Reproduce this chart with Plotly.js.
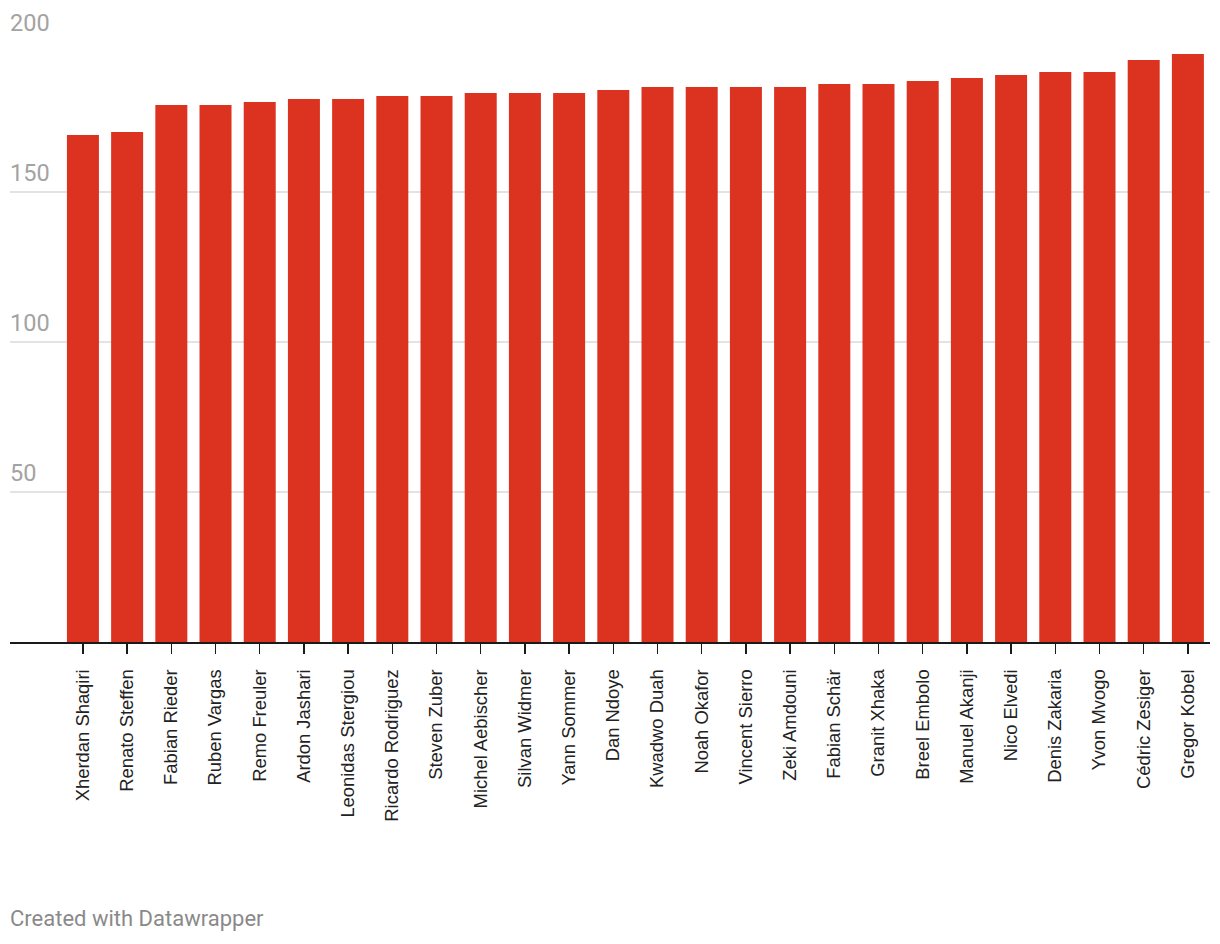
<!DOCTYPE html>
<html>
<head>
<meta charset="utf-8">
<script src="https://cdn.plot.ly/plotly-3.0.1.min.js"></script>
<style>
  html, body { margin: 0; padding: 0; background: #fff; }
  #chart { width: 1220px; height: 944px; }
</style>
</head>
<body>
<div id="chart"></div>
<script>
const players = ["Xherdan Shaqiri","Renato Steffen","Fabian Rieder","Ruben Vargas","Remo Freuler","Ardon Jashari","Leonidas Stergiou","Ricardo Rodriguez","Steven Zuber","Michel Aebischer","Silvan Widmer","Yann Sommer","Dan Ndoye","Kwadwo Duah","Noah Okafor","Vincent Sierro","Zeki Amdouni","Fabian Schär","Granit Xhaka","Breel Embolo","Manuel Akanji","Nico Elvedi","Denis Zakaria","Yvon Mvogo","Cédric Zesiger","Gregor Kobel"];
const heights = [169,170,179,179,180,181,181,182,182,183,183,183,184,185,185,185,185,186,186,187,188,189,190,190,194,196];
const yTicks = [50,100,150,200];
const yTickLabels = ["50","100","150","200"];

const trace = {
  type: 'bar',
  x: players,
  y: heights,
  marker: {color: '#dc3220'},
  hoverinfo: 'x+y'
};

const annotations = yTicks.map((v, i) => ({
  xref: 'paper', yref: 'y', x: 0, y: v,
  xanchor: 'left', yanchor: 'bottom',
  text: yTickLabels[i], showarrow: false,
  font: {family: 'Roboto', size: 23.5, color: '#a3a3a3'},
  yshift: 3, xshift: -2
}));
annotations.push({
  xref: 'paper', yref: 'paper', x: 0, y: 0,
  xanchor: 'left', yanchor: 'middle',
  text: 'Created with Datawrapper', showarrow: false,
  font: {family: 'Roboto', size: 22, color: '#8a8a8a'},
  yshift: -276, xshift: -2
});

const layout = {
  width: 1220, height: 944,
  margin: {l: 10, r: 10, t: 42, b: 302},
  paper_bgcolor: '#fff', plot_bgcolor: '#fff',
  showlegend: false,
  bargap: 0.276,
  font: {family: 'Roboto', color: '#333'},
  xaxis: {
    type: 'category',
    range: [-1.65, 25.5],
    showgrid: false,
    showline: true, linecolor: '#1a1a1a', linewidth: 2,
    ticks: 'outside', ticklen: 10, tickwidth: 1.5, tickcolor: '#1a1a1a',
    tickangle: -90,
    tickfont: {family: 'Liberation Sans, Arial, sans-serif', size: 18.4, color: '#222'},
    ticklabelstandoff: 8,
    fixedrange: true
  },
  yaxis: {
    range: [0, 200],
    tickvals: yTicks,
    showticklabels: false,
    showgrid: true, gridcolor: '#e3e3e3', gridwidth: 1.5,
    zeroline: false,
    fixedrange: true
  },
  annotations: annotations
};

Plotly.newPlot('chart', [trace], layout, {displayModeBar: false, staticPlot: true});
</script>
</body>
</html>
